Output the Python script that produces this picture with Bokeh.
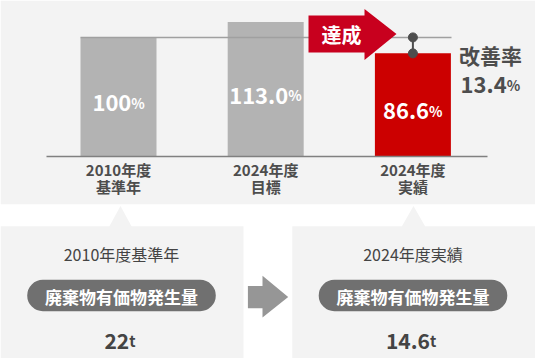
from bokeh.plotting import figure
from bokeh.models import Range1d, ColumnDataSource
from bokeh.core.properties import value
from bokeh.embed import file_html
from bokeh.resources import INLINE

# ---------------- data ----------------
cat_line1 = ["2010年度", "2024年度", "2024年度"]
cat_line2 = ["基準年", "目標", "実績"]
values = [100.0, 113.0, 86.6]
value_labels = ["100", "113.0", "86.6"]
pct_unit = "%"
improvement = 13.4
improvement_label = "改善率"
achieved_label = "達成"
panel_titles = ["2010年度基準年", "2024年度実績"]
metric_label = "廃棄物有価物発生量"
amounts = ["22", "14.6"]
amount_unit = "t"

# ---------------- style ----------------
FONT = value("Noto Sans CJK JP")
BG = "#f3f3f3"
GREY_BAR = "#b3b3b3"
RED_BAR = "#cc0000"
ARROW_RED = "#c8001e"
TXT = "#4d4d4d"
PILL = "#707070"

W, H = 535, 358
p = figure(width=W, height=H, output_backend="svg", toolbar_location=None,
           x_range=Range1d(0, 535), y_range=Range1d(358, 0),
           min_border=0, outline_line_color=None)
p.axis.visible = False
p.grid.visible = False
p.background_fill_color = "white"
p.border_fill_color = "white"

# percentage scale: 0 at y=156, 1.191 px per unit
base_y, ppu = 156.0, 1.191
p.extra_y_ranges = {"pct": Range1d(start=(base_y - 358) / ppu, end=(base_y - 0) / ppu)}

# background blocks
p.quad(left=[0], right=[535], top=[0], bottom=[203.7], color=BG, line_color=None)
p.quad(left=[0, 291.8], right=[243, 535], top=[225.8, 225.8], bottom=[358, 358],
       color=BG, line_color=None)
p.patches(xs=[[108.5, 120, 131.4], [401, 413, 425]],
          ys=[[226.5, 205.4, 226.5], [226.5, 205.4, 226.5]], color=BG, line_color=None)

# bars
centers = [118 + 147.2 * i for i in range(len(values))]
colors = [GREY_BAR, GREY_BAR, RED_BAR]
src = ColumnDataSource(dict(x=centers, top=values, color=colors))
p.vbar(x="x", top="top", bottom=0, width=76, color="color", line_color=None,
       source=src, y_range_name="pct")

# axis line
p.segment(x0=[46], x1=[487], y0=[0], y1=[0], line_color="#808080", line_width=1.5,
          y_range_name="pct")
# reference line at base value
p.segment(x0=[80], x1=[451], y0=[values[0]], y1=[values[0]], line_color="#a0a0a0",
          line_width=1.5, y_range_name="pct")

# bar value labels
def est_w(s, fs):
    w = 0
    for ch in s:
        if ch.isdigit():
            w += 0.58 * fs
        elif ch == ".":
            w += 0.30 * fs
        elif ch == "%":
            w += 0.90 * fs
        elif ch == "t":
            w += 0.60 * fs
        else:
            w += 1.0 * fs
    return w

NUM_FS, PCT_FS = 22, 14
splits = []
for c, lab in zip(centers, value_labels):
    nw = est_w(lab, NUM_FS)
    tw = nw + est_w(pct_unit, PCT_FS)
    splits.append(c - tw / 2 + nw)
lab_y = [v / 2 - 5 for v in values]
p.text(x=splits, y=lab_y, text=value_labels, text_font=FONT, text_font_style="bold",
       text_font_size=f"{NUM_FS}px", text_color="white", text_align="right",
       text_baseline="alphabetic", y_range_name="pct")
p.text(x=splits, y=lab_y, text=[pct_unit] * 3, text_font=FONT, text_font_style="bold",
       text_font_size=f"{PCT_FS}px", text_color="white", text_align="left",
       text_baseline="alphabetic", y_range_name="pct")

# category labels
p.text(x=centers, y=[168.5] * 3, text=cat_line1, text_font=FONT, text_font_style="bold",
       text_font_size="15px", text_color=TXT, text_align="center", text_baseline="middle")
p.text(x=centers, y=[185.5] * 3, text=cat_line2, text_font=FONT, text_font_style="bold",
       text_font_size="15px", text_color=TXT, text_align="center", text_baseline="middle")

# "達成" arrow
p.patch(x=[308, 364, 364, 396, 364, 364, 308],
        y=[15, 15, 8.5, 33.5, 59.5, 52, 52], color=ARROW_RED, line_color=None)
p.text(x=[341], y=[33.5], text=[achieved_label], text_font=FONT, text_font_style="bold",
       text_font_size="20px", text_color="white", text_align="center", text_baseline="middle")

# improvement marker
mx = centers[2]
p.segment(x0=[mx], x1=[mx], y0=[values[0]], y1=[values[2]], line_color=TXT, line_width=2,
          y_range_name="pct")
p.scatter(x=[mx, mx], y=[values[0], values[2]], size=9, color=TXT, y_range_name="pct")

p.text(x=[490], y=[54], text=[improvement_label], text_font=FONT, text_font_style="bold",
       text_font_size="21px", text_color=TXT, text_align="center", text_baseline="middle")
imp_txt = f"{improvement:.1f}"
nw = est_w(imp_txt, 22)
isplit = 490 - (nw + est_w(pct_unit, 14)) / 2 + nw
p.text(x=[isplit], y=[84], text=[imp_txt], text_font=FONT, text_font_style="bold",
       text_font_size="22px", text_color=TXT, text_align="right", text_baseline="alphabetic")
p.text(x=[isplit], y=[84], text=[pct_unit], text_font=FONT, text_font_style="bold",
       text_font_size="14px", text_color=TXT, text_align="left", text_baseline="alphabetic")

# bottom panels
pc = [121, 412.5]
p.text(x=pc, y=[253, 253], text=panel_titles, text_font=FONT,
       text_font_size="16px", text_color="#444444", text_align="center", text_baseline="middle")
p.quad(left=[c - 94.3 for c in pc], right=[c + 94.3 for c in pc], top=[279.3, 279.3],
       bottom=[310.7, 310.7], color=PILL, line_color=None, border_radius=16)
p.text(x=pc, y=[295.5, 295.5], text=[metric_label] * 2, text_font=FONT, text_font_style="bold",
       text_font_size="17px", text_color="white", text_align="center", text_baseline="middle")
asplits = []
for c, a in zip(pc, amounts):
    nw = est_w(a, 21)
    asplits.append(c - (nw + est_w(amount_unit, 15)) / 2 + nw)
p.text(x=asplits, y=[340, 340], text=amounts, text_font=FONT, text_font_style="bold",
       text_font_size="21px", text_color="#444444", text_align="right", text_baseline="alphabetic")
p.text(x=asplits, y=[340, 340], text=[amount_unit] * 2, text_font=FONT, text_font_style="bold",
       text_font_size="15px", text_color="#444444", text_align="left", text_baseline="alphabetic")

# middle arrow
p.patch(x=[247.4, 262, 262, 287.7, 262, 262, 247.4],
        y=[285.6, 285.6, 275.3, 296.5, 317, 307.7, 307.7], color="#969696", line_color=None)

open("out.html", "w").write(file_html(p, INLINE))
